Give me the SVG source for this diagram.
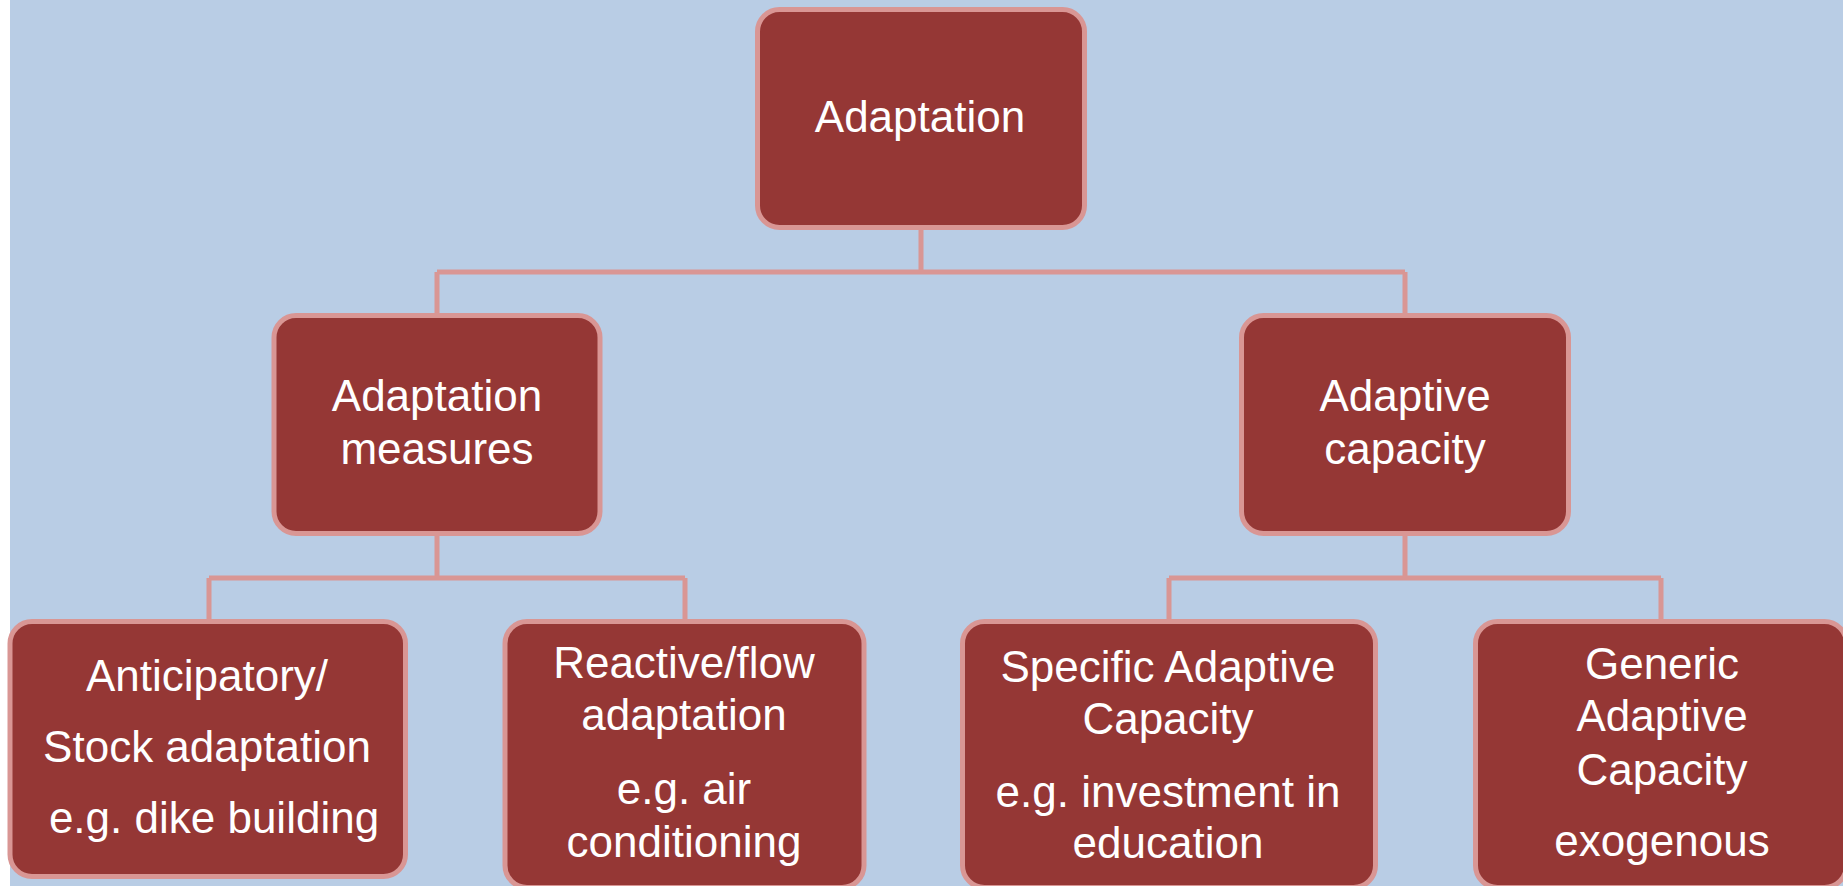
<svg xmlns="http://www.w3.org/2000/svg" width="1843" height="886" viewBox="0 0 1843 886">
<style>
.node rect{fill:#953735;stroke:#D99694;stroke-width:5}
.node text{fill:#FFFFFF;font-family:"Liberation Sans",Arial,sans-serif;font-size:44px;text-anchor:middle}
.conn{fill:none;stroke:#D99694;stroke-width:5}
</style>
<rect x="0" y="0" width="1843" height="886" fill="#FFFFFF"/>
<rect x="10" y="0" width="1833" height="886" fill="#B9CDE5"/>
<g id="connectors" class="conn">
<path d="M921 230V272M437 272H1405M437 272V313M1405 272V313"/>
<path d="M437 536V578M209 578H685M209 578V619M685 578V619"/>
<path d="M1405 536V578M1169 578H1661M1169 578V619M1661 578V619"/>
</g>
<g id="n-adaptation" class="node">
<rect x="757.5" y="9.5" width="327" height="218" rx="22"/>
<text x="920" y="132">Adaptation</text>
</g>
<g id="n-measures" class="node">
<rect x="274" y="315.5" width="326" height="218" rx="22"/>
<text x="437" y="411">Adaptation</text>
<text x="437" y="464">measures</text>
</g>
<g id="n-capacity" class="node">
<rect x="1241.5" y="315.5" width="327" height="218" rx="22"/>
<text x="1405" y="411">Adaptive</text>
<text x="1405" y="464">capacity</text>
</g>
<g id="n-anticipatory" class="node">
<rect x="10" y="621.5" width="395.5" height="255" rx="22"/>
<text x="207" y="691">Anticipatory/</text>
<text x="207" y="762">Stock adaptation</text>
<text x="214" y="833">e.g. dike building</text>
</g>
<g id="n-reactive" class="node">
<rect x="505" y="621.5" width="359" height="266" rx="22"/>
<text x="684" y="678">Reactive/flow</text>
<text x="684" y="730">adaptation</text>
<text x="684" y="804">e.g. air</text>
<text x="684" y="857">conditioning</text>
</g>
<g id="n-specific" class="node">
<rect x="962.5" y="621.5" width="413" height="266" rx="22"/>
<text x="1168" y="682">Specific Adaptive</text>
<text x="1168" y="734">Capacity</text>
<text x="1168" y="807">e.g. investment in</text>
<text x="1168" y="858">education</text>
</g>
<g id="n-generic" class="node">
<rect x="1475.5" y="621.5" width="371" height="266" rx="22"/>
<text x="1662" y="679">Generic</text>
<text x="1662" y="731">Adaptive</text>
<text x="1662" y="785">Capacity</text>
<text x="1662" y="856">exogenous</text>
</g>
</svg>
